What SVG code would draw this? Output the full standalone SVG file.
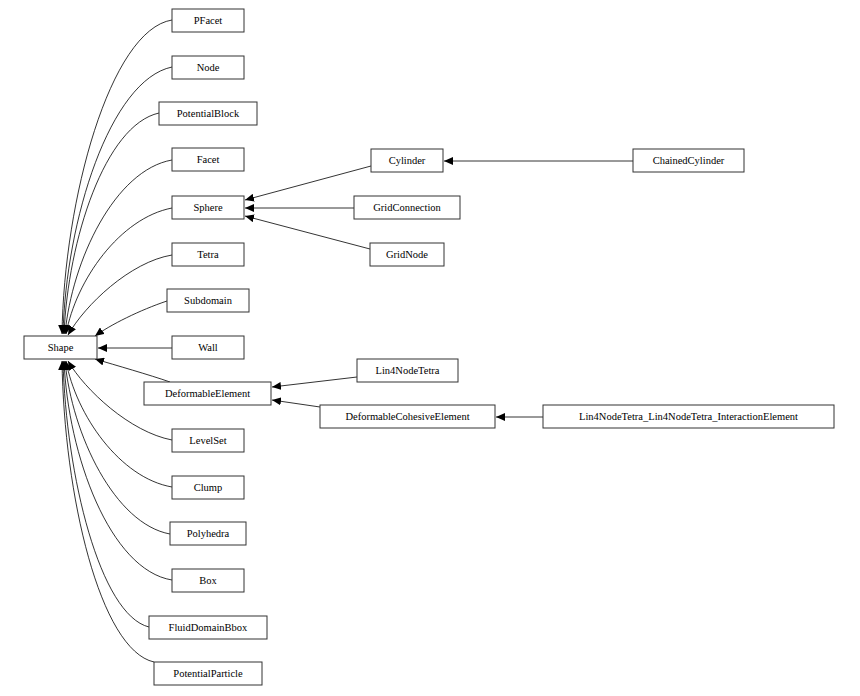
<svg xmlns="http://www.w3.org/2000/svg" width="860" height="696" viewBox="0 0 860 696">
<style>
.n rect{fill:#fff;stroke:#333;stroke-width:1}
.n text{font-family:"Liberation Serif",serif;font-size:10.5px;text-anchor:middle;fill:#000}
.e path{fill:none;stroke:#000;stroke-width:0.8}
</style>
<defs><marker id="a" markerWidth="10" markerHeight="8" refX="9" refY="4" orient="auto" markerUnits="userSpaceOnUse"><path d="M0,0L9,4L0,8z" fill="#000"/></marker></defs>
<rect width="860" height="696" fill="#fff"/>
<g class="e" marker-end="url(#a)">
<path d="M172,20 C110,30 64,200 62,334" marker-end="url(#a)"/>
<path d="M172,67 C110,80 66,220 63,334" marker-end="url(#a)"/>
<path d="M159,113 C105,125 68,240 64,334" marker-end="url(#a)"/>
<path d="M172,160 C115,170 72,260 65,334" marker-end="url(#a)"/>
<path d="M172,208 C120,218 76,280 66,334" marker-end="url(#a)"/>
<path d="M172,255 C130,262 85,305 68,335" marker-end="url(#a)"/>
<path d="M167,301 C140,310 110,325 95,336" marker-end="url(#a)"/>
<path d="M172,348 L98,348" marker-end="url(#a)"/>
<path d="M170,382 C150,375 115,365 95,359" marker-end="url(#a)"/>
<path d="M172,440 C130,432 85,390 68,361" marker-end="url(#a)"/>
<path d="M172,487 C120,478 76,415 66,361" marker-end="url(#a)"/>
<path d="M170,534 C115,524 72,435 65,361" marker-end="url(#a)"/>
<path d="M172,580 C110,570 68,455 64,361" marker-end="url(#a)"/>
<path d="M149,627 C100,615 66,475 63,361" marker-end="url(#a)"/>
<path d="M154,662 C100,650 64,495 62,361" marker-end="url(#a)"/>
<path d="M371,166 L245,200" marker-end="url(#a)"/>
<path d="M354,208 L245,208" marker-end="url(#a)"/>
<path d="M370,249 L245,216" marker-end="url(#a)"/>
<path d="M633,161 L444,161" marker-end="url(#a)"/>
<path d="M357,377 L272,387" marker-end="url(#a)"/>
<path d="M320,407 L272,400" marker-end="url(#a)"/>
<path d="M543,417 L496,417" marker-end="url(#a)"/>
</g>
<g id="Shape" class="n"><rect x="24" y="336" width="73" height="23"/><text x="60.5" y="351">Shape</text></g>
<g id="PFacet" class="n"><rect x="172" y="9" width="72" height="23"/><text x="208" y="24">PFacet</text></g>
<g id="Node" class="n"><rect x="172" y="56" width="72" height="23"/><text x="208" y="71">Node</text></g>
<g id="PotentialBlock" class="n"><rect x="159" y="102" width="98" height="23"/><text x="208" y="117">PotentialBlock</text></g>
<g id="Facet" class="n"><rect x="172" y="148" width="72" height="23"/><text x="208" y="163">Facet</text></g>
<g id="Sphere" class="n"><rect x="172" y="196" width="72" height="23"/><text x="208" y="211">Sphere</text></g>
<g id="Tetra" class="n"><rect x="172" y="243" width="72" height="23"/><text x="208" y="258">Tetra</text></g>
<g id="Subdomain" class="n"><rect x="167" y="289" width="82" height="23"/><text x="208" y="304">Subdomain</text></g>
<g id="Wall" class="n"><rect x="172" y="336" width="72" height="23"/><text x="208" y="351">Wall</text></g>
<g id="DeformableElement" class="n"><rect x="144" y="382" width="127" height="23"/><text x="207.5" y="397">DeformableElement</text></g>
<g id="LevelSet" class="n"><rect x="172" y="429" width="72" height="23"/><text x="208" y="444">LevelSet</text></g>
<g id="Clump" class="n"><rect x="172" y="476" width="72" height="23"/><text x="208" y="491">Clump</text></g>
<g id="Polyhedra" class="n"><rect x="170" y="522" width="76" height="23"/><text x="208" y="537">Polyhedra</text></g>
<g id="Box" class="n"><rect x="172" y="569" width="72" height="23"/><text x="208" y="584">Box</text></g>
<g id="FluidDomainBbox" class="n"><rect x="149" y="616" width="118" height="23"/><text x="208" y="631">FluidDomainBbox</text></g>
<g id="PotentialParticle" class="n"><rect x="154" y="662" width="108" height="23"/><text x="208" y="677">PotentialParticle</text></g>
<g id="Cylinder" class="n"><rect x="371" y="149" width="72" height="23"/><text x="407" y="164">Cylinder</text></g>
<g id="GridConnection" class="n"><rect x="354" y="196" width="106" height="23"/><text x="407" y="211">GridConnection</text></g>
<g id="GridNode" class="n"><rect x="370" y="243" width="74" height="23"/><text x="407" y="258">GridNode</text></g>
<g id="ChainedCylinder" class="n"><rect x="633" y="149" width="111" height="23"/><text x="688.5" y="164">ChainedCylinder</text></g>
<g id="Lin4NodeTetra" class="n"><rect x="357" y="359" width="101" height="23"/><text x="407.5" y="374">Lin4NodeTetra</text></g>
<g id="DeformableCohesiveElement" class="n"><rect x="320" y="405" width="175" height="23"/><text x="407.5" y="420">DeformableCohesiveElement</text></g>
<g id="Lin4NodeTetra_Lin4NodeTetra_InteractionElement" class="n"><rect x="543" y="405" width="291" height="23"/><text x="688.5" y="420">Lin4NodeTetra_Lin4NodeTetra_InteractionElement</text></g>
</svg>
